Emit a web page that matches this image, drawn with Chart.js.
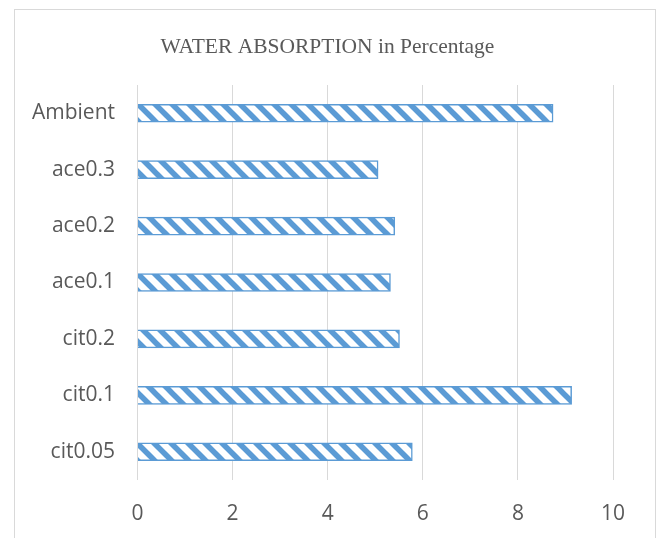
<!DOCTYPE html>
<html>
<head>
<meta charset="utf-8">
<script src="https://cdn.jsdelivr.net/npm/chart.js@4"></script>
<style>
  html, body { margin: 0; padding: 0; background: #ffffff; }
  #wrap { position: relative; width: 659px; height: 538px; }
</style>
</head>
<body>
<div id="wrap"><canvas id="c" width="659" height="538"></canvas></div>
<script>
const categories = ['Ambient', 'ace0.3', 'ace0.2', 'ace0.1', 'cit0.2', 'cit0.1', 'cit0.05'];
const values = [8.74, 5.06, 5.41, 5.32, 5.51, 9.13, 5.78];
const xTicks = [0, 2, 4, 6, 8, 10];
const titleText = 'WATER ABSORPTION in Percentage';

function makePattern() {
  const p = 17;
  const cv = document.createElement('canvas');
  cv.width = p; cv.height = p;
  const g = cv.getContext('2d');
  g.fillStyle = '#ffffff';
  g.fillRect(0, 0, p, p);
  g.strokeStyle = '#5B9BD5';
  g.lineWidth = 5.5;
  for (const k of [-p, 0, p]) {
    g.beginPath();
    g.moveTo(k - 2, -2);
    g.lineTo(k + p + 2, p + 2);
    g.stroke();
  }
  return g.createPattern(cv, 'repeat');
}

const framePlugin = {
  id: 'frame',
  beforeDraw(chart) {
    const ctx = chart.ctx;
    ctx.save();
    ctx.fillStyle = '#ffffff';
    ctx.fillRect(0, 0, chart.width, chart.height);
    ctx.strokeStyle = '#D9D9D9';
    ctx.lineWidth = 1;
    ctx.strokeRect(14.5, 9.5, 641, 600);
    ctx.fillStyle = '#595959';
    ctx.font = '21.5px "Liberation Serif", "DejaVu Serif", serif';
    ctx.textAlign = 'center';
    ctx.textBaseline = 'middle';
    ctx.fillText(titleText, 327.5, 47);
    ctx.restore();
  }
};

new Chart(document.getElementById('c'), {
  type: 'bar',
  data: {
    labels: categories,
    datasets: [{
      data: values,
      backgroundColor: makePattern(),
      borderColor: '#5B9BD5',
      borderWidth: 1.5,
      barThickness: 18
    }]
  },
  options: {
    indexAxis: 'y',
    responsive: false,
    animation: false,
    devicePixelRatio: 1,
    layout: { padding: { left: 0, right: 46, top: 85, bottom: 0 } },
    plugins: {
      legend: { display: false },
      tooltip: { enabled: false },
      title: { display: false }
    },
    scales: {
      x: {
        min: 0, max: 10,
        afterBuildTicks(axis) { axis.ticks = xTicks.map(v => ({ value: v })); },
        grid: { color: '#D9D9D9', lineWidth: 1, drawTicks: false },
        border: { display: false },
        ticks: {
          color: '#595959',
          font: { family: '"Open Sans", sans-serif', size: 21 },
          padding: 21
        },
        afterFit(axis) { axis.height = 58; }
      },
      y: {
        grid: { display: false, drawTicks: false },
        border: { display: false },
        ticks: {
          color: '#595959',
          font: { family: '"Open Sans", sans-serif', size: 21 },
          padding: 22.5
        },
        afterFit(axis) { axis.width = 137.5; }
      }
    }
  },
  plugins: [framePlugin]
});
</script>
</body>
</html>
